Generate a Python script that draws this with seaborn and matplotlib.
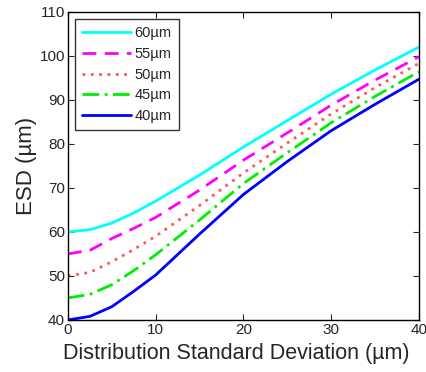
import matplotlib
matplotlib.use("Agg")
import matplotlib.pyplot as plt
import numpy as np
import pandas as pd
import seaborn as sns

# === data ===
SIGMA = [0, 2.5, 5, 7.5, 10, 15, 20, 25, 30, 35, 40]
ESD_60 = [60.0, 60.5, 62.0, 64.3, 67.0, 72.9, 79.3, 85.3, 91.3, 96.8, 102.0]
ESD_55 = [55.0, 55.8, 58.5, 60.8, 63.3, 69.5, 76.3, 82.5, 88.8, 94.5, 99.8]
ESD_50 = [50.0, 50.8, 53.2, 56.0, 59.0, 66.0, 73.4, 80.2, 86.8, 92.8, 98.3]
ESD_45 = [45.0, 45.8, 48.0, 51.2, 54.8, 62.7, 71.0, 78.0, 84.8, 90.8, 96.4]
ESD_40 = [40.0, 40.8, 43.0, 46.5, 50.2, 59.5, 68.5, 76.0, 83.0, 89.0, 94.7]

SERIES = ["60\u00b5m", "55\u00b5m", "50\u00b5m", "45\u00b5m", "40\u00b5m"]
COLORS = ["#00ffff", "#ff00ff", "#ff2020", "#00ee00", "#0000ff"]
STYLES = ["-", (0, (5, 3)), (0, (1, 2)), (0, (6, 2, 1, 2)), "-"]

rows = []
for name, vals in zip(SERIES, [ESD_60, ESD_55, ESD_50, ESD_45, ESD_40]):
    for s, v in zip(SIGMA, vals):
        rows.append({"sigma": s, "esd": v, "size": name})
df = pd.DataFrame(rows)

sns.set_style("ticks")
plt.rcParams["font.family"] = ["Liberation Sans", "DejaVu Sans"]

fig, ax = plt.subplots(figsize=(4.27, 3.72), dpi=100)
for name, color, ls in zip(SERIES, COLORS, STYLES):
    sub = df[df["size"] == name]
    sns.lineplot(data=sub, x="sigma", y="esd", ax=ax, color=color,
                 linewidth=2.0, label=name, linestyle=ls,
                 alpha=0.75 if name == "50\u00b5m" else 1.0)

ax.set_xlim(0, 40)
ax.set_ylim(40, 110)
ax.set_xticks([0, 10, 20, 30, 40])
ax.set_yticks(np.arange(40, 111, 10))
ax.tick_params(direction="in", top=True, right=True, labelsize=11,
               length=4, width=0.8, pad=2)
for sp in ax.spines.values():
    sp.set_linewidth(1.0)
    sp.set_color("black")
ax.set_xlabel("Distribution Standard Deviation (\u00b5m)", fontsize=15.5, labelpad=0)
ax.xaxis.set_label_coords(0.48, -0.075)
ax.set_ylabel("ESD (\u00b5m)", fontsize=16, labelpad=2)

leg = ax.legend(loc="upper left", fontsize=10.5, frameon=True, fancybox=False,
                handlelength=3.3, handletextpad=0.25, labelspacing=0.45,
                borderpad=0.5, borderaxespad=0.5)
leg.get_frame().set_edgecolor("black")
leg.get_frame().set_linewidth(1.0)

plt.subplots_adjust(left=0.159, right=0.981, bottom=0.140, top=0.968)
plt.savefig("out.png", dpi=100)
